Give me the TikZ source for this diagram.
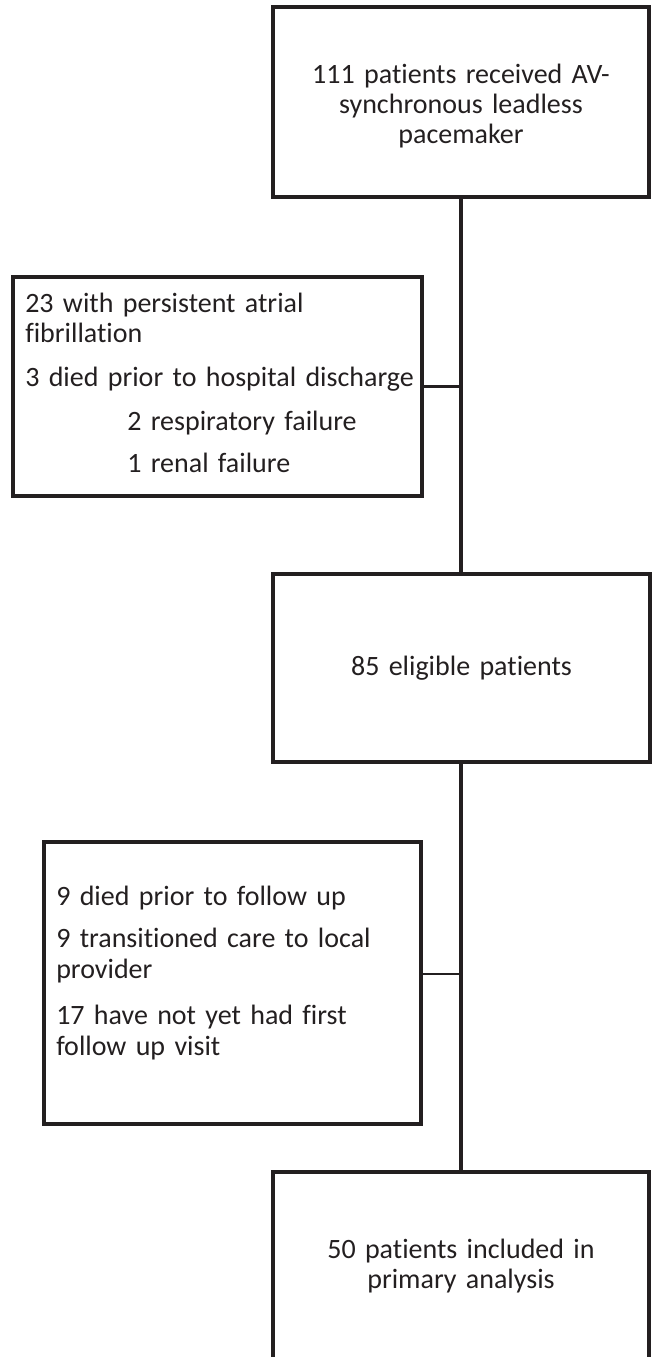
\documentclass[tikz,border=0pt]{standalone}
\usepackage{fontspec}
\setmainfont{Carlito}[Ligatures=NoCommon]
\definecolor{ink}{HTML}{231F20}
\begin{document}
\begin{tikzpicture}[x=0.75pt,y=-0.75pt,
  box/.style={draw=ink, line width=2.6pt, inner sep=0pt},
  thinbox/.style={draw=ink, line width=2.3pt, inner sep=0pt},
  conn/.style={draw=ink, line width=2.6pt},
  thinconn/.style={draw=ink, line width=1.9pt},
  ctxt/.style={text=ink, inner sep=0pt, align=center, text width=300pt, anchor=base,
    font=\fontsize{21pt}{22.8pt}\selectfont},
  ltxt/.style={text=ink, inner sep=0pt, align=left, text width=300pt, anchor=base west,
    font=\fontsize{21pt}{23.2pt}\selectfont}]
\useasboundingbox (0,0) rectangle (655,1357);
\clip (0,0) rectangle (655,1357);
% boxes
\node[box, minimum width=282pt, minimum height=142.5pt] (b1) at (461,102) {};
\node[box, minimum width=306.75pt, minimum height=164.25pt] (b2) at (217.5,386.5) {};
\node[box, minimum width=282.75pt, minimum height=141pt] (b3) at (461.5,668) {};
\node[thinbox, minimum width=282.75pt, minimum height=211.5pt] (b4) at (232.5,983) {};
\node[box, minimum width=282pt, minimum height=163.5pt] (b5) at (461,1281) {};
% texts
\node[ctxt] (t1) at (461,83) {111 patients received AV-\\synchronous leadless\\pacemaker};
\node[ltxt] (t2) at (25,312) {23 with persistent atrial\\fibrillation\\[9.5pt]3 died prior to hospital discharge\\[10pt]\hspace*{76.5pt}2 respiratory failure\\[8pt]\hspace*{76.5pt}1 renal failure};
\node[ctxt] (t3) at (461.5,675) {85 eligible patients};
\node[ltxt] (t4) at (56,905) {9 died prior to follow up\\[9pt]9 transitioned care to local\\provider\\[11pt]17 have not yet had first\\follow up visit};
\node[ctxt] (t5) at (461,1258) {50 patients included in\\primary analysis};
% connectors
\draw[conn] (b1.south) -- (b1.south |- b3.north);
\draw[conn] (b2.east) -- (b2.east -| b1.south);
\draw[conn] (b3.south -| b1.south) -- (b1.south |- b5.north);
\coordinate (j4) at (461,974);
\draw[thinconn] (b4.east |- j4) -- (j4);
\end{tikzpicture}
\end{document}
